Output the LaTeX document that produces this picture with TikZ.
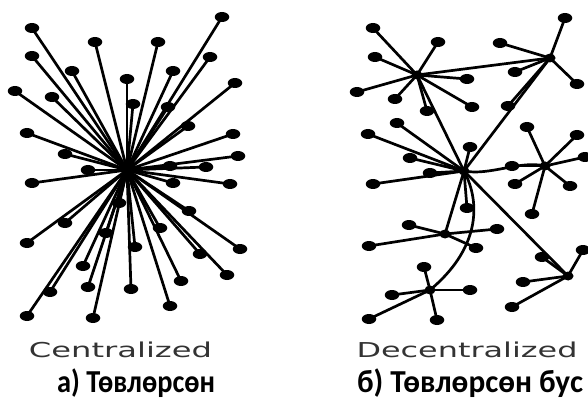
\documentclass[tikz,border=0pt]{standalone}
\usepackage{fontspec}
\usetikzlibrary{shapes.geometric}
\newfontfamily\capfont{DejaVu Sans}
\newfontfamily\lblfont{Carlito}
\newcommand{\fitwidth}[2]{\resizebox{#1}{\height}{#2}}
\begin{document}
\begin{tikzpicture}[x=1pt,y=-1pt,
  dot/.style={ellipse,fill=black,minimum width=14.5pt,minimum height=10pt,inner sep=0pt},
  hubdot/.style={ellipse,fill=black,minimum width=11pt,minimum height=9pt,inner sep=0pt},
  link/.style={line width=2.7pt,black},
  captext/.style={font=\capfont\fontsize{20.5}{24}\selectfont,text=black!80,anchor=base,inner sep=0pt},
  lbl/.style={font=\lblfont\bfseries\fontsize{32}{38}\selectfont,text=black,anchor=base,inner sep=0pt}]
\useasboundingbox (0,0) rectangle (588,403);
% ---------- centralized ----------
\node[hubdot] (h) at (127,170) {};
\foreach \i/\p in {1/{32,28},2/{95,42},3/{158,42},4/{222,17},5/{32,56},6/{72,71},7/{127,79},8/{173,71},9/{210,57},10/{15,91},11/{52,97},12/{133,104},13/{168,107},14/{235,83},15/{188,126},16/{27,133},17/{233,134},18/{65,154},19/{238,156},20/{88,170},21/{170,166},22/{206,167},23/{32,183},24/{173,183},25/{230,184},26/{189,211},27/{65,223},28/{160,228},29/{27,243},30/{240,249},31/{106,233},32/{135,247},33/{200,254},34/{83,266},35/{227,275},36/{181,281},37/{88,287},38/{131,289},39/{50,292},40/{170,306},41/{27,316},42/{93,318},43/{119,203}}{
  \node[dot] (c\i) at (\p) {};
  \draw[link] (h.center) -- (c\i.center);
}
% ---------- decentralized ----------
\node[hubdot] (A) at (417,75) {};
\node[hubdot] (B) at (550,58) {};
\node[hubdot] (C) at (464,171) {};
\node[hubdot] (D) at (545,166) {};
\node[hubdot] (E) at (445,234) {};
\node[hubdot] (F) at (568,276) {};
\node[hubdot] (G) at (430,290) {};
\draw[link] (A.center) -- (B.center);
\draw[link] (A.center) -- (C.center);
\draw[link] (B.center) -- (C.center);
\draw[link] (C.center) .. controls (490,176) and (520,160) .. (D.center);
\draw[link] (C.center) -- (E.center);
\draw[link] (C.center) -- (F.center);
\draw[link] (C.center) .. controls (482,205) and (478,250) .. (G.center);
\foreach \hub/\lst in {
  A/{a1/{373,28},a2/{438,42},a3/{375,57},a4/{357,92},a5/{395,99},a6/{427,111},a7/{467,79},a8/{472,107}},
  B/{b1/{565,18},b2/{500,43},b3/{515,72},b4/{577,84},b5/{508,106}},
  C/{k1/{368,134},k2/{397,123},k3/{470,147},k4/{410,158},k5/{430,173},k6/{373,184},k7/{467,208}},
  D/{d1/{527,127},d2/{577,135},d3/{585,157},d4/{512,166},d5/{515,184},d6/{570,186},d7/{532,214}},
  E/{e1/{409,225},e2/{497,229},e3/{369,246},e4/{476,248}},
  F/{f1/{542,257},f2/{583,250},f3/{523,282},f4/{512,307}},
  G/{g1/{424,267},g2/{470,290},g3/{392,295},g4/{369,319},g5/{437,320}}}{
  \foreach \n/\p in \lst {
    \node[dot] (\n) at (\p) {};
    \draw[link] (\hub.center) -- (\n.center);
  }
}
% ---------- labels ----------
\node[captext] (capa) at (120.5,357) {\fitwidth{183pt}{Centralized}};
\node[captext] (capb) at (467,357) {\fitwidth{221pt}{Decentralized}};
\node[lbl] (la) at (136,392) {\fitwidth{158pt}{а) Төвлөрсөн}};
\node[lbl] (lb) at (470,392) {\fitwidth{226pt}{б) Төвлөрсөн бус}};
\end{tikzpicture}
\end{document}
